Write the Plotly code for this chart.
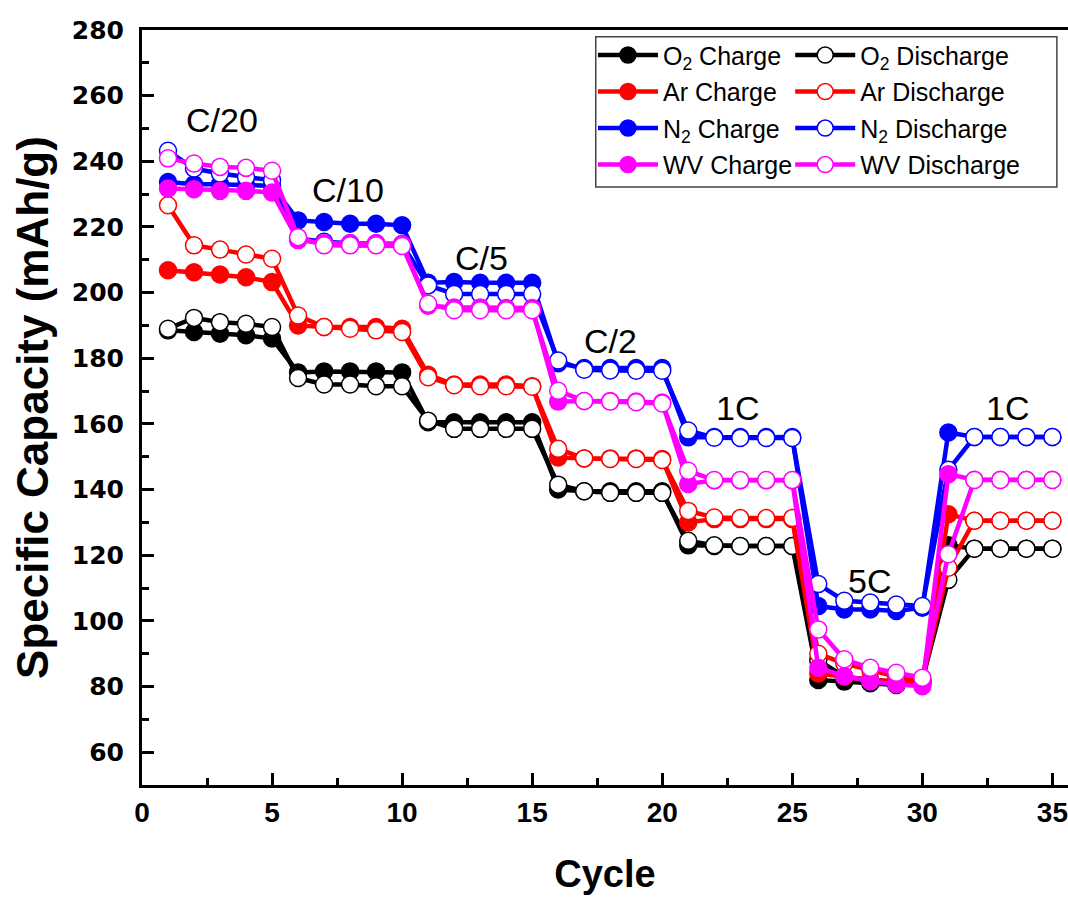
import plotly.graph_objects as go

cycles = list(range(1, 36))

o2_charge = [188.5, 188, 187.5, 187, 186,
             175.7, 176, 176, 176, 175.7,
             160.5, 160.5, 160.5, 160.5, 160.5,
             140, 139.5, 139.5, 139.5, 139.5,
             123, 122.8, 122.8, 122.8, 122.8,
             82, 81.5, 81, 80.5, 81,
             123, 122, 122, 122, 122]
o2_discharge = [189, 192.3, 191, 190.5, 189.5,
                174, 172, 172, 171.5, 171.5,
                161, 158.5, 158.5, 158.5, 158.5,
                141.5, 139.5, 139, 139, 139,
                124.4, 123, 122.8, 122.8, 122.8,
                88, 83, 82, 81.5, 82,
                112.5, 122, 122, 122, 122]
ar_charge = [206.8, 206.2, 205.5, 204.7, 203.2,
             190, 189.5, 189.5, 189.5, 189,
             175, 172, 172, 172, 171.5,
             149.8, 149.5, 149.5, 149.5, 149.3,
             130, 131, 131, 131, 131,
             84, 83, 82, 81.5, 81,
             132.5, 130.5, 130.5, 130.5, 130.5]
ar_discharge = [226.6, 214.4, 213.1, 211.6, 210.3,
                193, 189.5, 189, 188.5, 188,
                174.2, 171.8, 171.5, 171.5, 171.3,
                152.4, 149.5, 149.3, 149.3, 149,
                133.5, 131.5, 131.3, 131.3, 131.3,
                90, 87, 85, 83, 82,
                116.2, 130.5, 130.5, 130.5, 130.5]
n2_charge = [233.7, 233, 233, 232.8, 232.5,
             222, 221.5, 221, 221, 220.5,
             203, 203.2, 203, 203, 203,
             178.5, 177, 177, 177, 177,
             155.9, 156, 156, 156, 156,
             104.5, 103.5, 103.5, 103, 104,
             157.4, 156, 156, 156, 156]
n2_discharge = [243.2, 237.8, 236.3, 235.2, 234.2,
                216.5, 215.5, 215, 215, 214.8,
                202.2, 199.6, 199.6, 199.6, 199.6,
                179.3, 176.5, 176.3, 176.2, 176.2,
                158, 155.8, 155.7, 155.7, 155.7,
                111.2, 106.1, 105.6, 105, 104.5,
                146, 156, 156, 156, 156]
wv_charge = [231.7, 231.5, 231, 231, 230.5,
             216, 215, 215, 215, 214.8,
             196, 195.5, 195.5, 195.3, 195.3,
             166.8, 167, 167, 166.8, 166.5,
             141.7, 142.8, 142.8, 142.8, 142.8,
             85.7, 83.2, 81.6, 80.6, 80.1,
             144.7, 143, 143, 143, 143]
wv_discharge = [240.9, 239.3, 238.3, 238, 237.1,
                216.9, 214.4, 214.4, 214.4, 214.2,
                196.6, 194.6, 194.6, 194.6, 194.6,
                170.1, 167, 166.8, 166.6, 166.2,
                145.7, 142.9, 142.9, 142.9, 142.9,
                97.4, 88.3, 85.7, 84.2, 82.7,
                120.3, 142.9, 142.9, 142.9, 142.9]

series = [
    ("O<sub>2</sub> Charge", o2_charge, "#000000", True, "legend"),
    ("O<sub>2</sub> Discharge", o2_discharge, "#000000", False, "legend2"),
    ("Ar Charge", ar_charge, "#ff0000", True, "legend"),
    ("Ar Discharge", ar_discharge, "#ff0000", False, "legend2"),
    ("N<sub>2</sub> Charge", n2_charge, "#0000ff", True, "legend"),
    ("N<sub>2</sub> Discharge", n2_discharge, "#0000ff", False, "legend2"),
    ("WV Charge", wv_charge, "#ff00ff", True, "legend"),
    ("WV Discharge", wv_discharge, "#ff00ff", False, "legend2"),
]

rate_labels = ["C/20", "C/10", "C/5", "C/2", "1C", "5C", "1C"]
rate_x = [3.08, 7.92, 13.04, 18.0, 22.9, 27.96, 33.27]
rate_y = [252.5, 231.2, 210.4, 185.4, 164.7, 112.2, 164.7]

fig = go.Figure()
for i, (name, vals, color, filled, lg) in enumerate(series):
    fig.add_trace(go.Scatter(
        x=cycles, y=vals, name=name, mode="lines+markers",
        line=dict(color=color, width=4.5),
        marker=dict(size=17, color=color if filled else "white",
                    line=dict(color=color, width=1.5), symbol="circle"),
        legend=lg, legendgroup="g%d" % i,
    ))

for t, x, y in zip(rate_labels, rate_x, rate_y):
    fig.add_annotation(x=x, y=y, text=t, showarrow=False,
                       font=dict(family="Liberation Sans, Arial", size=34, color="black"))

axis_font = "Liberation Sans, Arial"
leg_font = dict(family=axis_font, size=25, color="black")
fig.update_layout(
    width=1068, height=897,
    margin=dict(l=142, r=0, t=30, b=112),
    plot_bgcolor="white", paper_bgcolor="white",
    showlegend=True,
    legend=dict(x=0.487, y=0.997, xanchor="left", yanchor="top",
                bgcolor="rgba(0,0,0,0)", font=leg_font,
                tracegroupgap=1, itemwidth=60),
    legend2=dict(x=0.700, y=0.997, xanchor="left", yanchor="top",
                 bgcolor="rgba(0,0,0,0)", font=leg_font,
                 tracegroupgap=1, itemwidth=60),
    shapes=[dict(type="rect", xref="paper", yref="paper", x0=0.490, x1=0.988,
                 y0=0.792, y1=0.991, line=dict(color="#444444", width=1.5))],
)
fig.update_xaxes(
    range=[0, 35.6], tick0=0, dtick=5,
    showline=True, linecolor="black", linewidth=3, mirror=True,
    ticks="inside", ticklen=12, tickwidth=2.5, tickcolor="black",
    minor=dict(ticks="inside", ticklen=7, tickwidth=2.5, tickcolor="black", dtick=2.5),
    showgrid=False, zeroline=False,
    tickfont=dict(family="Liberation Sans Narrow, Liberation Sans, Arial", size=28, color="black", weight="bold"),
    title=dict(text="<b>Cycle</b>", font=dict(family=axis_font, size=38, color="black"), standoff=34),
)
fig.update_yaxes(
    range=[50, 280], tick0=0, dtick=20,
    showline=True, linecolor="black", linewidth=3,
    ticks="inside", ticklen=12, tickwidth=2.5, tickcolor="black",
    minor=dict(ticks="inside", ticklen=7, tickwidth=2.5, tickcolor="black", dtick=10),
    showgrid=False, zeroline=False, ticklabelstandoff=10,
    tickfont=dict(family="DejaVu Sans", size=25, color="black", weight="bold"),
    title=dict(text="<b>Specific Capacity (mAh/g)</b>", font=dict(family=axis_font, size=44, color="black"), standoff=10),
)

fig.write_html("out.html")
